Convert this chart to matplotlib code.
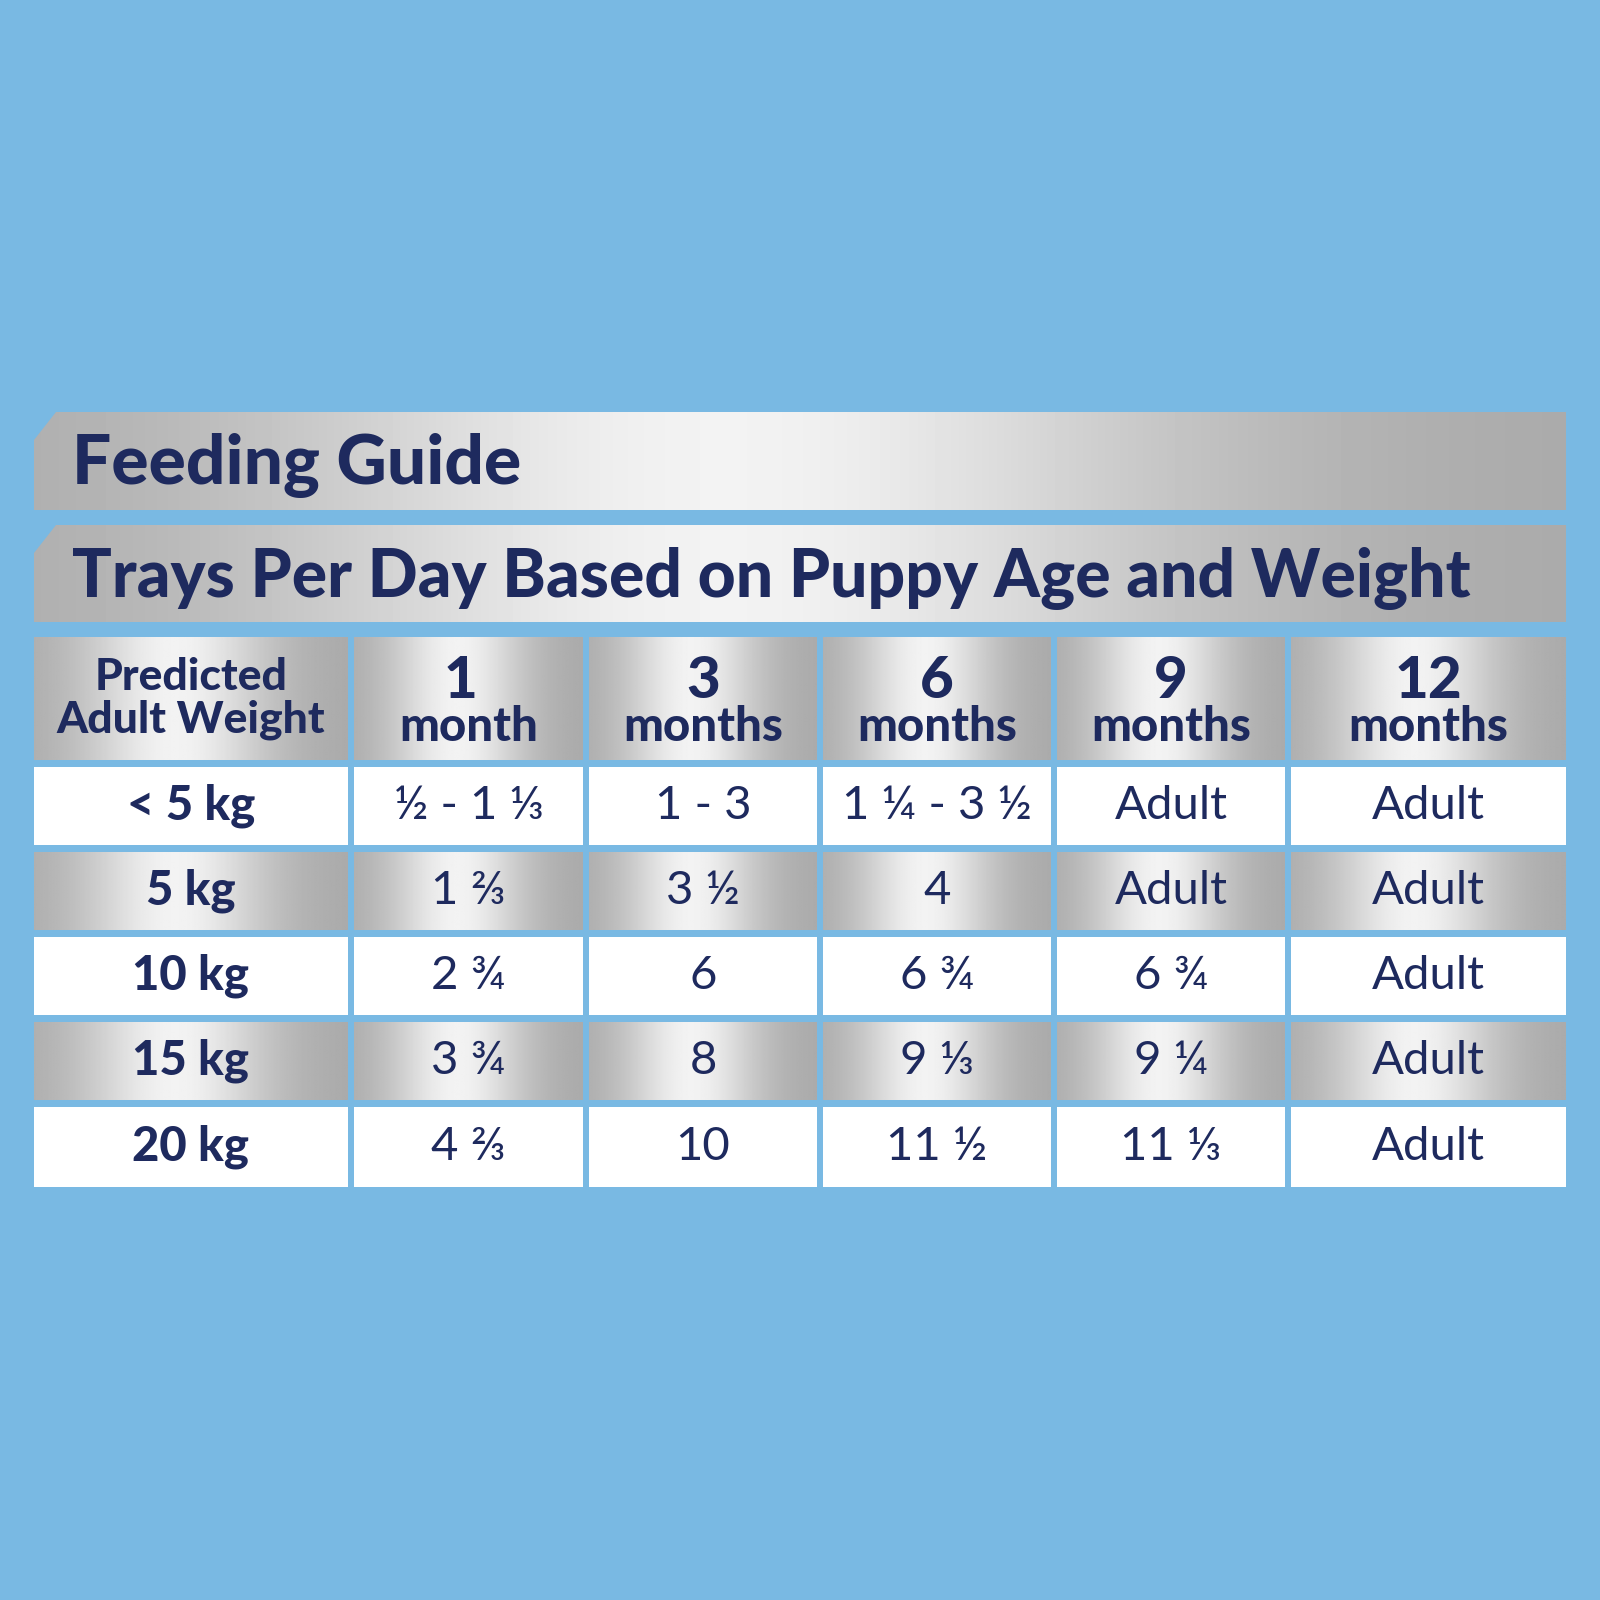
import numpy as np
import matplotlib
matplotlib.use("Agg")
import matplotlib.pyplot as plt
from matplotlib.patches import Polygon, Rectangle

plt.rcParams["font.family"] = ["Lato", "DejaVu Sans"]

BG = "#79B9E3"
NAVY = "#1E2A5E"

title = "Feeding Guide"
subtitle = "Trays Per Day Based on Puppy Age and Weight"
col_heads = ["Predicted\nAdult Weight", "1\nmonth", "3\nmonths", "6\nmonths", "9\nmonths", "12\nmonths"]
row_heads = ["< 5 kg", "5 kg", "10 kg", "15 kg", "20 kg"]
values = [
    ["½ - 1 ⅓", "1 - 3", "1 ¼ - 3 ½", "Adult", "Adult"],
    ["1 ⅔", "3 ½", "4", "Adult", "Adult"],
    ["2 ¾", "6", "6 ¾", "6 ¾", "Adult"],
    ["3 ¾", "8", "9 ⅓", "9 ¼", "Adult"],
    ["4 ⅔", "10", "11 ½", "11 ⅓", "Adult"],
]

col_x = [(34, 348), (354, 583), (589, 817), (823, 1051), (1057, 1285), (1291, 1566)]
row_y = [(767, 845), (852, 930), (937, 1015), (1022, 1100), (1107, 1187)]
head_y = (637, 760)

fig = plt.figure(figsize=(16, 16), dpi=100)
fig.patch.set_facecolor(BG)
ax = fig.add_axes([0, 0, 1, 1])
ax.set_xlim(0, 1600)
ax.set_ylim(1600, 0)
ax.axis("off")


def silver(x0, x1, y0, y1, clip=None):
    t = np.linspace(0, 1, 256)
    v = 0.66 + 0.29 * np.exp(-((t - 0.45) / 0.3) ** 2)
    img = np.tile(v, (4, 1))
    im = ax.imshow(img, cmap="gray", vmin=0, vmax=1, extent=(x0, x1, y1, y0),
                   aspect="auto", interpolation="bilinear", zorder=1)
    if clip is not None:
        im.set_clip_path(clip)


# banners with cut top-left corner
for (y0, y1), txt, fs in [((412, 510), title, 50), ((525, 622), subtitle, 47.5)]:
    poly = Polygon([(34, y0 + 28), (56, y0), (1566, y0), (1566, y1), (34, y1)],
                   closed=True, facecolor="none", edgecolor="none")
    ax.add_patch(poly)
    silver(34, 1566, y0, y1, clip=poly)
    ax.text(72, (y0 + y1) / 2 + 5, txt, fontsize=fs, fontweight="black",
            color=NAVY, va="center", ha="left", zorder=3)

# header row
for j, (x0, x1) in enumerate(col_x):
    silver(x0, x1, *head_y)
    cx = (x0 + x1) / 2
    if j == 0:
        ax.text(cx, (head_y[0] + head_y[1]) / 2, col_heads[j], fontsize=32,
                fontweight="black", color=NAVY, ha="center", va="center",
                linespacing=1.05, zorder=3)
    else:
        num, word = col_heads[j].split("\n")
        ax.text(cx - 8 if j == 1 else cx, 682, num, fontsize=42, fontweight="black",
                color=NAVY, ha="center", va="center", zorder=3)
        ax.text(cx, 727, word, fontsize=34, fontweight="black",
                color=NAVY, ha="center", va="center", zorder=3)

# body rows
for i, (y0, y1) in enumerate(row_y):
    cy = (y0 + y1) / 2
    for j, (x0, x1) in enumerate(col_x):
        if i % 2 == 1:
            silver(x0, x1, y0, y1)
        else:
            ax.add_patch(Rectangle((x0, y0), x1 - x0, y1 - y0, facecolor="white",
                                   edgecolor="none", zorder=1))
        if j == 0:
            ax.text(x0 + (x1 - x0) / 2, cy, row_heads[i], fontsize=34,
                    fontweight="black", color=NAVY, ha="center", va="center", zorder=3)
        else:
            ax.text((x0 + x1) / 2, cy, values[i][j - 1], fontsize=34,
                    color=NAVY, ha="center", va="center", zorder=3)

fig.savefig("out.png", dpi=100, facecolor=BG)
